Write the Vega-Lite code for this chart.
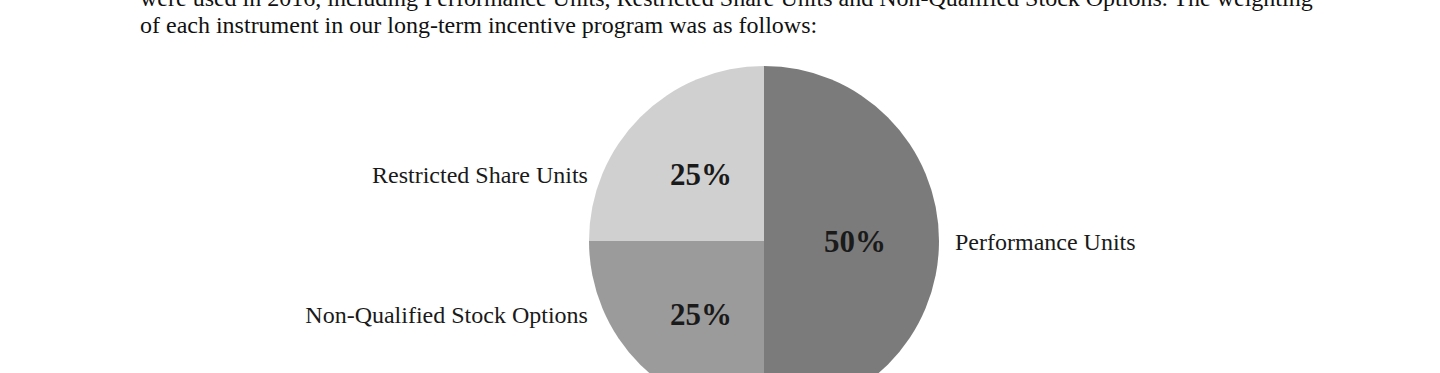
{
  "$schema": "https://vega.github.io/schema/vega-lite/v6.json",
  "autosize": "none",
  "width": 1248,
  "height": 382,
  "padding": {"left": 140, "top": 50, "right": 0, "bottom": 0},
  "background": "white",
  "view": {"stroke": null},
  "title": {
    "text": ["were used in 2016, including Performance Units, Restricted Share Units and Non-Qualified Stock Options. The weighting", "of each instrument in our long-term incentive program was as follows:"],
    "anchor": "start",
    "frame": "group",
    "font": "Liberation Serif",
    "fontSize": 24,
    "fontWeight": "normal",
    "color": "#111111",
    "lineHeight": 27,
    "offset": 12
  },
  "data": {
    "values": [
      {"instrument": "Performance Units", "weight": 50, "pct": "50%", "k": 1},
      {"instrument": "Non-Qualified Stock Options", "weight": 25, "pct": "25%", "k": 2},
      {"instrument": "Restricted Share Units", "weight": 25, "pct": "25%", "k": 3}
    ]
  },
  "encoding": {
    "theta": {"field": "weight", "type": "quantitative", "stack": true},
    "order": {"field": "k", "type": "ordinal"}
  },
  "layer": [
    {
      "mark": {"type": "arc", "outerRadius": 175},
      "encoding": {
        "color": {
          "field": "instrument",
          "type": "nominal",
          "scale": {
            "domain": ["Performance Units", "Non-Qualified Stock Options", "Restricted Share Units"],
            "range": ["#7b7b7b", "#9b9b9b", "#d0d0d0"]
          },
          "legend": null
        }
      }
    },
    {
      "mark": {"type": "text", "radius": 91, "dy": 2, "font": "Liberation Serif", "fontSize": 31, "fontWeight": "bold", "color": "#1a1a1a", "baseline": "middle", "align": "center"},
      "encoding": {"text": {"condition": {"test": "datum.k == 1", "field": "pct"}, "value": ""}}
    },
    {
      "mark": {"type": "text", "radius": 92, "dx": 2, "font": "Liberation Serif", "fontSize": 31, "fontWeight": "bold", "color": "#1a1a1a", "baseline": "middle", "align": "center"},
      "encoding": {"text": {"condition": {"test": "datum.k == 3", "field": "pct"}, "value": ""}}
    },
    {
      "mark": {"type": "text", "radius": 92, "dx": 2, "dy": 10, "font": "Liberation Serif", "fontSize": 31, "fontWeight": "bold", "color": "#1a1a1a", "baseline": "middle", "align": "center"},
      "encoding": {"text": {"condition": {"test": "datum.k == 2", "field": "pct"}, "value": ""}}
    },
    {
      "mark": {"type": "text", "radius": 92, "dx": -111, "font": "Liberation Serif", "fontSize": 24, "color": "#1a1a1a", "baseline": "middle", "align": "right"},
      "encoding": {"text": {"condition": {"test": "datum.k == 3", "field": "instrument"}, "value": ""}}
    },
    {
      "mark": {"type": "text", "radius": 92, "dx": -111, "dy": 10, "font": "Liberation Serif", "fontSize": 24, "color": "#1a1a1a", "baseline": "middle", "align": "right"},
      "encoding": {"text": {"condition": {"test": "datum.k == 2", "field": "instrument"}, "value": ""}}
    },
    {
      "mark": {"type": "text", "radius": 191, "dy": 2, "font": "Liberation Serif", "fontSize": 24, "color": "#1a1a1a", "baseline": "middle", "align": "left"},
      "encoding": {"text": {"condition": {"test": "datum.k == 1", "field": "instrument"}, "value": ""}}
    }
  ]
}
